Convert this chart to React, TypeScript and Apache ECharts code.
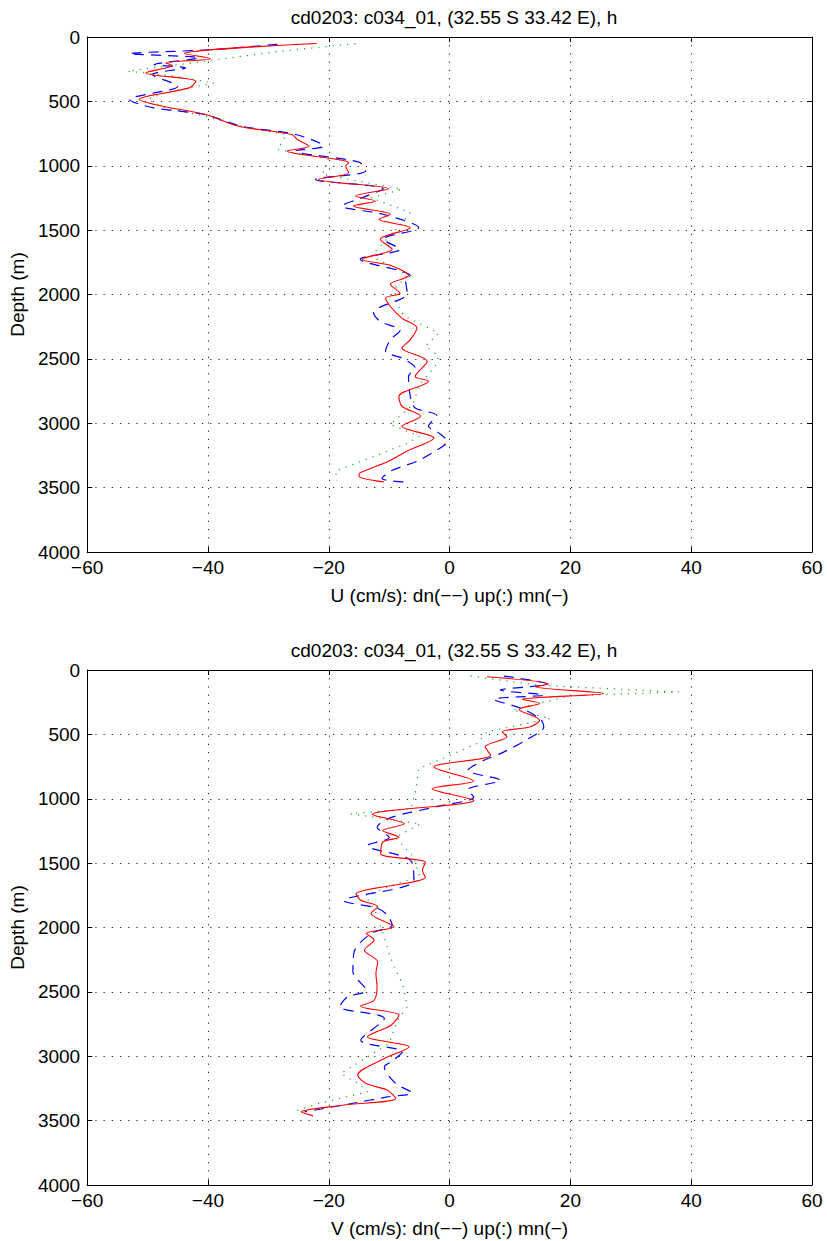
import React, { useEffect, useRef } from "react";
import * as echarts from "echarts";

const titleText = "cd0203: c034_01, (32.55 S 33.42 E), h";
const xTicks = { min: -60, max: 60, interval: 20 };
const yTicks = { min: 0, max: 4000, interval: 500 };
const uAxisName = "U (cm/s): dn(−−) up(:) mn(−)";
const vAxisName = "V (cm/s): dn(−−) up(:) mn(−)";
const depthName = "Depth (m)";

// U component — mean (red)
const uMnDepth = [50, 129, 168, 201, 222, 279, 344, 395, 486, 532, 602, 693, 757, 796, 848, 886, 977, 1003, 1054, 1106, 1178, 1235, 1274, 1313, 1377, 1416, 1481, 1571, 1649, 1726, 1778, 1855, 1920, 1990, 2028, 2093, 2183, 2261, 2351, 2416, 2519, 2636, 2674, 2791, 2868, 2946, 3023, 3114, 3217, 3295, 3385, 3411, 3455];
const uMnValue = [-22.0, -43.9, -39.6, -47.0, -45.9, -50.3, -42.0, -43.1, -51.4, -48.1, -40.4, -34.9, -26.1, -25.2, -23.3, -26.9, -16.7, -17.2, -16.7, -21.7, -10.1, -15.6, -12.3, -15.9, -9.8, -11.7, -6.5, -11.5, -9.5, -14.5, -9.5, -6.8, -9.8, -8.2, -10.6, -9.8, -7.9, -5.4, -6.5, -7.9, -3.7, -5.7, -3.5, -8.4, -7.9, -4.8, -7.9, -2.6, -7.1, -10.1, -14.8, -15.0, -10.9];

// U component — down cast (blue dashed)
const uDnDepth = [57, 100, 129, 163, 214, 240, 292, 382, 486, 550, 602, 693, 757, 848, 886, 972, 1041, 1106, 1178, 1240, 1313, 1377, 1481, 1571, 1649, 1726, 1855, 1886, 1990, 2140, 2209, 2279, 2351, 2442, 2494, 2571, 2636, 2791, 2881, 2941, 3023, 3075, 3140, 3230, 3295, 3372, 3430, 3457];
const uDnValue = [-28.5, -40.0, -53.0, -41.5, -48.9, -43.7, -49.2, -45.0, -53.0, -49.0, -40.5, -34.5, -25.5, -20.8, -25.5, -15.0, -13.9, -22.2, -11.0, -14.0, -17.8, -11.0, -5.1, -11.0, -8.2, -14.8, -6.5, -7.3, -7.0, -12.6, -11.5, -8.2, -9.8, -10.6, -7.9, -5.7, -6.8, -6.5, -5.7, -2.1, -3.5, -1.8, -0.4, -2.9, -5.4, -9.8, -11.2, -6.8];

// U component — up cast (green dotted)
const uUpDepth = [52, 110, 176, 266, 300, 357, 430, 486, 550, 620, 700, 757, 873, 950, 1067, 1120, 1183, 1250, 1364, 1450, 1550, 1700, 1850, 1950, 2050, 2163, 2300, 2400, 2481, 2558, 2700, 2850, 3010, 3100, 3153, 3282, 3372, 3450];
const uUpValue = [-15.6, -28.0, -38.5, -53.3, -46.0, -39.0, -47.0, -50.0, -47.0, -40.0, -34.0, -27.0, -28.5, -20.0, -21.1, -15.0, -7.9, -13.0, -6.5, -8.0, -10.0, -13.0, -7.0, -9.0, -9.0, -7.6, -1.8, -4.0, -1.8, -2.4, -5.0, -6.0, -9.8, -5.0, -6.8, -13.9, -18.9, -18.6];

// V component — mean (red)
const vMnDepth = [52, 109, 130, 182, 228, 260, 306, 390, 441, 480, 519, 597, 662, 753, 862, 922, 1013, 1122, 1195, 1247, 1299, 1338, 1428, 1493, 1558, 1610, 1740, 1788, 1839, 1891, 1995, 2047, 2098, 2176, 2267, 2357, 2461, 2565, 2611, 2681, 2759, 2850, 2888, 2927, 3018, 3147, 3212, 3264, 3329, 3381, 3432, 3463];
const vMnValue = [6.2, 16.4, 14.2, 25.5, 12.0, 14.9, 11.5, 14.9, 13.4, 8.7, 9.5, 5.9, 6.8, -2.6, 4.0, -2.9, 4.0, -12.8, -7.5, -11.1, -8.4, -11.1, -11.4, -4.0, -4.5, -4.0, -15.5, -14.7, -11.9, -13.0, -9.2, -13.8, -12.5, -14.1, -11.9, -12.2, -12.0, -12.5, -14.7, -8.4, -9.7, -13.6, -10.3, -6.7, -10.8, -15.2, -13.8, -10.3, -8.9, -17.7, -24.6, -22.6];

// V component — down cast (blue dashed)
const vDnDepth = [47, 109, 156, 195, 228, 300, 380, 441, 545, 636, 701, 780, 857, 930, 987, 1060, 1143, 1221, 1300, 1364, 1480, 1636, 1792, 1850, 1904, 1982, 2047, 2189, 2344, 2487, 2539, 2616, 2707, 2875, 2966, 3044, 3083, 3212, 3285, 3316, 3368, 3432];
const vDnValue = [9.0, 16.1, 8.4, 15.6, 7.3, 12.0, 15.0, 15.6, 12.6, 9.0, 5.7, 3.0, 8.4, 3.0, 4.0, -2.0, -9.5, -12.0, -10.0, -13.6, -6.4, -5.9, -17.5, -12.0, -10.3, -9.5, -13.0, -15.8, -16.0, -13.8, -16.9, -18.2, -10.8, -14.7, -7.8, -9.7, -10.8, -8.9, -6.2, -10.3, -16.3, -24.0];

// V component — up cast (green dotted)
const vUpDepth = [47, 120, 170, 200, 311, 376, 480, 571, 766, 935, 1078, 1117, 1195, 1300, 1450, 1600, 1750, 1900, 2050, 2200, 2306, 2435, 2616, 2720, 2900, 3134, 3225, 3277, 3368, 3432];
const vUpValue = [3.5, 15.0, 38.0, 20.0, 10.4, 16.7, 6.2, 4.6, -5.1, -5.6, -6.4, -16.4, -4.8, -9.0, -6.0, -5.0, -14.0, -12.0, -11.0, -10.0, -9.2, -7.8, -7.0, -8.6, -10.0, -18.0, -14.7, -13.6, -21.8, -25.9];

const FONT = "Liberation Sans";
const FS = 19;

const pairs = (vals: number[], depths: number[]) => vals.map((v, i) => [v, depths[i]]);
const fmtX = (v: number) => (v < 0 ? "−" + Math.abs(v) : String(v));
const fmtY = (v: number) => String(v);

export default function App() {
  const ref = useRef<HTMLDivElement>(null);
  useEffect(() => {
    if (!ref.current) return;
    const chart = echarts.init(ref.current, undefined, { renderer: "svg" });
    const grids = [
      { left: 86, width: 726, top: 37, height: 515 },
      { left: 86, width: 726, top: 670, height: 515 },
    ];
    const line = { show: true, onZero: false, lineStyle: { color: "#000", width: 1 } };
    const tick = { show: true, inside: true, length: 5, lineStyle: { color: "#000" } };
    const grid = { show: true, lineStyle: { color: "#222", type: [1.2, 7], width: 1 } };
    const xAxes: any[] = [];
    const yAxes: any[] = [];
    [uAxisName, vAxisName].forEach((name, g) => {
      xAxes.push({
        type: "value", gridIndex: g, position: "bottom", ...xTicks, name,
        nameLocation: "middle", nameGap: 34,
        nameTextStyle: { fontFamily: FONT, fontSize: FS, color: "#000" },
        axisLine: line, axisTick: tick,
        axisLabel: { formatter: fmtX, fontFamily: FONT, fontSize: FS, color: "#000", margin: 6 },
        splitLine: grid,
      });
      xAxes.push({
        type: "value", gridIndex: g, position: "top", ...xTicks,
        axisLine: line, axisTick: tick, axisLabel: { show: false }, splitLine: { show: false },
      });
      yAxes.push({
        type: "value", gridIndex: g, position: "left", inverse: true, ...yTicks, name: depthName,
        nameLocation: "middle", nameGap: 58, nameRotate: 90,
        nameTextStyle: { fontFamily: FONT, fontSize: FS, color: "#000" },
        axisLine: line, axisTick: tick,
        axisLabel: { formatter: fmtY, fontFamily: FONT, fontSize: FS, color: "#000", margin: 7 },
        splitLine: grid,
      });
      yAxes.push({
        type: "value", gridIndex: g, position: "right", inverse: true, ...yTicks,
        axisLine: line, axisTick: tick, axisLabel: { show: false }, splitLine: { show: false },
      });
    });
    const mk = (data: number[][], g: number, kind: "dn" | "up" | "mn") => ({
      type: "line",
      xAxisIndex: g * 2,
      yAxisIndex: g * 2,
      data,
      showSymbol: false,
      symbol: "none",
      smooth: kind === "up" ? false : 0.3,
      lineStyle:
        kind === "dn"
          ? { color: "#0000ff", width: 1.2, type: [10, 7] }
          : kind === "up"
          ? { color: "#1f9f1f", width: 1.2, type: [1.2, 6] }
          : { color: "#ff0000", width: 1.1, type: "solid" },
      z: kind === "mn" ? 5 : kind === "dn" ? 3 : 2,
    });
    const tStyle = { fontFamily: FONT, fontSize: FS, fontWeight: "normal", color: "#000" };
    chart.setOption({
      animation: false,
      backgroundColor: "#fff",
      title: [
        { text: titleText, left: 449, top: 3, textAlign: "center", textStyle: tStyle },
        { text: titleText, left: 449, top: 636, textAlign: "center", textStyle: tStyle },
      ],
      grid: grids,
      xAxis: xAxes,
      yAxis: yAxes,
      series: [
        mk(pairs(uUpValue, uUpDepth), 0, "up"),
        mk(pairs(uDnValue, uDnDepth), 0, "dn"),
        mk(pairs(uMnValue, uMnDepth), 0, "mn"),
        mk(pairs(vUpValue, vUpDepth), 1, "up"),
        mk(pairs(vDnValue, vDnDepth), 1, "dn"),
        mk(pairs(vMnValue, vMnDepth), 1, "mn"),
      ],
    });
    return () => chart.dispose();
  }, []);
  return <div ref={ref} style={{ position: "absolute", left: 0, top: 0, width: 827, height: 1241 }} />;
}
